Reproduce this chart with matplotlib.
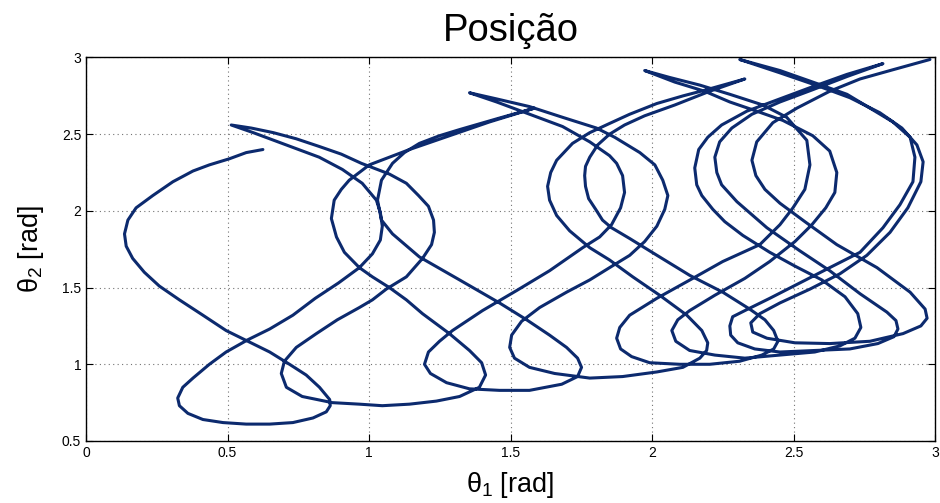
import numpy as np
import matplotlib
matplotlib.use("Agg")
import matplotlib.pyplot as plt

plt.rcParams['font.family'] = ['Liberation Sans', 'DejaVu Sans']
plt.rcParams['mathtext.fontset'] = 'custom'
plt.rcParams['mathtext.rm'] = 'Liberation Sans'
plt.rcParams['mathtext.it'] = 'Liberation Sans'

# trajectory (theta1, theta2), one list per swing
pass1 = [(0.625, 2.40), (0.566, 2.38), (0.507, 2.34), (0.436, 2.30), (0.378, 2.26), (0.307, 2.19),
         (0.236, 2.10), (0.177, 2.02), (0.148, 1.94), (0.136, 1.85), (0.142, 1.77), (0.165, 1.69),
         (0.206, 1.60), (0.259, 1.51), (0.330, 1.42), (0.413, 1.32), (0.495, 1.22), (0.572, 1.15),
         (0.649, 1.08), (0.719, 1.00), (0.778, 0.93), (0.825, 0.85), (0.861, 0.77), (0.863, 0.73),
         (0.849, 0.69), (0.802, 0.65), (0.731, 0.62), (0.649, 0.61), (0.566, 0.61), (0.484, 0.62),
         (0.413, 0.64), (0.360, 0.68), (0.330, 0.73), (0.324, 0.78), (0.342, 0.85), (0.378, 0.91),
         (0.436, 1.00), (0.495, 1.08), (0.572, 1.16), (0.649, 1.23), (0.731, 1.32), (0.810, 1.43),
         (0.892, 1.53), (0.966, 1.63), (1.012, 1.72), (1.040, 1.81), (1.047, 1.90), (1.040, 1.99),
         (1.026, 2.07), (0.976, 2.18), (0.906, 2.27), (0.824, 2.35), (0.708, 2.43), (0.591, 2.51),
         (0.513, 2.56)]

pass2 = [(0.584, 2.54), (0.662, 2.51), (0.743, 2.47), (0.824, 2.42), (0.902, 2.37), (0.973, 2.31),
         (1.072, 2.24), (1.132, 2.18), (1.175, 2.10), (1.210, 2.03), (1.228, 1.94), (1.231, 1.86),
         (1.221, 1.78), (1.189, 1.69), (1.132, 1.57), (1.061, 1.49), (1.012, 1.42), (0.966, 1.37),
         (0.888, 1.29), (0.814, 1.20), (0.743, 1.11), (0.701, 1.02), (0.690, 0.94), (0.708, 0.85),
         (0.764, 0.79), (0.870, 0.75), (0.966, 0.74), (1.047, 0.73), (1.143, 0.74), (1.238, 0.76),
         (1.320, 0.79), (1.390, 0.85), (1.412, 0.93), (1.398, 1.01), (1.355, 1.09), (1.284, 1.20),
         (1.189, 1.33), (1.132, 1.42), (1.072, 1.50), (1.012, 1.57), (0.966, 1.63), (0.913, 1.73),
         (0.885, 1.83), (0.867, 1.95), (0.877, 2.07), (0.902, 2.14), (0.930, 2.20), (1.001, 2.30),
         (1.072, 2.35), (1.143, 2.40), (1.284, 2.49), (1.426, 2.58), (1.585, 2.67)]

pass3 = [(1.451, 2.60), (1.320, 2.53), (1.249, 2.49), (1.178, 2.44), (1.125, 2.38), (1.083, 2.31),
         (1.044, 2.20), (1.030, 2.07), (1.044, 1.94), (1.083, 1.85), (1.178, 1.70), (1.320, 1.55),
         (1.461, 1.40), (1.557, 1.29), (1.638, 1.19), (1.698, 1.11), (1.737, 1.04), (1.751, 0.98),
         (1.737, 0.92), (1.681, 0.87), (1.567, 0.83), (1.461, 0.83), (1.355, 0.84), (1.274, 0.88),
         (1.217, 0.94), (1.196, 1.00), (1.210, 1.08), (1.249, 1.15), (1.295, 1.22), (1.401, 1.35),
         (1.521, 1.48), (1.638, 1.61), (1.755, 1.76), (1.815, 1.83), (1.857, 1.91), (1.889, 2.02),
         (1.903, 2.12), (1.896, 2.23), (1.875, 2.31), (1.850, 2.36), (1.780, 2.45), (1.684, 2.55),
         (1.567, 2.63), (1.451, 2.71), (1.355, 2.77)]

pass4 = [(1.451, 2.73), (1.567, 2.68), (1.684, 2.61), (1.804, 2.54), (1.868, 2.48), (1.957, 2.38),
         (2.010, 2.30), (2.038, 2.20), (2.056, 2.10), (2.045, 2.01), (2.017, 1.90), (1.974, 1.80),
         (1.921, 1.71), (1.850, 1.63), (1.780, 1.55), (1.698, 1.47), (1.603, 1.37), (1.539, 1.28),
         (1.504, 1.19), (1.497, 1.11), (1.514, 1.04), (1.567, 0.98), (1.656, 0.94), (1.780, 0.91),
         (1.896, 0.92), (2.017, 0.95), (2.109, 0.98), (2.169, 1.04), (2.193, 1.09), (2.197, 1.14),
         (2.176, 1.22), (2.123, 1.32), (2.027, 1.45), (1.932, 1.57), (1.850, 1.68), (1.780, 1.76),
         (1.709, 1.87), (1.663, 1.97), (1.638, 2.07), (1.631, 2.16), (1.642, 2.25), (1.663, 2.33),
         (1.719, 2.44), (1.780, 2.51), (1.850, 2.57), (1.921, 2.63), (2.017, 2.70), (2.110, 2.75),
         (2.193, 2.79), (2.328, 2.86)]

pass5 = [(2.204, 2.78), (2.080, 2.69), (1.974, 2.62), (1.903, 2.56), (1.850, 2.50), (1.808, 2.43),
         (1.780, 2.35), (1.765, 2.29), (1.762, 2.23), (1.765, 2.16), (1.776, 2.08), (1.801, 2.01),
         (1.825, 1.94), (1.857, 1.89), (1.921, 1.82), (2.009, 1.72), (2.133, 1.58), (2.250, 1.47),
         (2.345, 1.36), (2.399, 1.29), (2.430, 1.22), (2.445, 1.15), (2.430, 1.10), (2.388, 1.06),
         (2.310, 1.02), (2.204, 1.00), (2.098, 1.00), (1.992, 1.01), (1.928, 1.05), (1.889, 1.10),
         (1.875, 1.17), (1.886, 1.24), (1.921, 1.32), (2.017, 1.43), (2.144, 1.56), (2.250, 1.67),
         (2.381, 1.78), (2.452, 1.91), (2.498, 2.02), (2.540, 2.14), (2.558, 2.30), (2.547, 2.46),
         (2.476, 2.61), (2.392, 2.69), (2.275, 2.76), (2.169, 2.82), (2.062, 2.87), (1.974, 2.915)]

pass6 = [(2.080, 2.84), (2.186, 2.78), (2.275, 2.71), (2.370, 2.65), (2.462, 2.59), (2.568, 2.49),
         (2.628, 2.39), (2.653, 2.25), (2.646, 2.12), (2.614, 2.02), (2.565, 1.91), (2.505, 1.80),
         (2.416, 1.67), (2.328, 1.56), (2.222, 1.45), (2.133, 1.35), (2.091, 1.29), (2.070, 1.22),
         (2.084, 1.15), (2.133, 1.09), (2.222, 1.06), (2.328, 1.04), (2.452, 1.06), (2.575, 1.08),
         (2.664, 1.12), (2.717, 1.17), (2.738, 1.24), (2.727, 1.33), (2.682, 1.44), (2.600, 1.55),
         (2.505, 1.64), (2.416, 1.73), (2.321, 1.84), (2.257, 1.93), (2.215, 2.01), (2.176, 2.10),
         (2.158, 2.17), (2.151, 2.28), (2.165, 2.40), (2.197, 2.48), (2.246, 2.56), (2.335, 2.65),
         (2.452, 2.73), (2.568, 2.81), (2.689, 2.89), (2.816, 2.96)]

pass7 = [(2.689, 2.876), (2.568, 2.79), (2.452, 2.71), (2.353, 2.63), (2.282, 2.54), (2.239, 2.45),
         (2.222, 2.35), (2.229, 2.25), (2.246, 2.17), (2.300, 2.06), (2.406, 1.89), (2.522, 1.74),
         (2.628, 1.61), (2.735, 1.46), (2.830, 1.34), (2.862, 1.285), (2.869, 1.23), (2.855, 1.18),
         (2.798, 1.135), (2.699, 1.10), (2.575, 1.09), (2.452, 1.08), (2.363, 1.10), (2.303, 1.14),
         (2.278, 1.19), (2.275, 1.25), (2.285, 1.31), (2.328, 1.35), (2.416, 1.43), (2.522, 1.53),
         (2.628, 1.63), (2.735, 1.73), (2.816, 1.89), (2.876, 2.04), (2.922, 2.19), (2.929, 2.35),
         (2.912, 2.48), (2.851, 2.58), (2.770, 2.67), (2.689, 2.76), (2.583, 2.83), (2.452, 2.915),
         (2.310, 2.987)]

pass8 = [(2.452, 2.90), (2.583, 2.817), (2.699, 2.738), (2.805, 2.64), (2.883, 2.54), (2.936, 2.43),
         (2.958, 2.32), (2.950, 2.19), (2.904, 2.02), (2.841, 1.86), (2.759, 1.71), (2.664, 1.59),
         (2.558, 1.49), (2.452, 1.40), (2.381, 1.33), (2.349, 1.27), (2.356, 1.21), (2.406, 1.17),
         (2.505, 1.14), (2.628, 1.135), (2.770, 1.15), (2.887, 1.20), (2.950, 1.25), (2.972, 1.30),
         (2.965, 1.36), (2.912, 1.47), (2.795, 1.63), (2.653, 1.78), (2.540, 1.93), (2.452, 2.05),
         (2.399, 2.14), (2.367, 2.23), (2.353, 2.33), (2.370, 2.45), (2.427, 2.575), (2.512, 2.67),
         (2.628, 2.78), (2.735, 2.86), (2.851, 2.92), (2.982, 2.987)]

x_ticks = [0, 0.5, 1, 1.5, 2, 2.5, 3]
x_tick_labels = ["0", "0.5", "1", "1.5", "2", "2.5", "3"]
y_ticks = [0.5, 1, 1.5, 2, 2.5, 3]
y_tick_labels = ["0.5", "1", "1.5", "2", "2.5", "3"]

passes = [pass1, pass2, pass3, pass4, pass5, pass6, pass7, pass8]
pts = np.vstack([np.array(p) for p in passes])
theta1 = pts[:, 0]
theta2 = pts[:, 1]

fig = plt.figure(figsize=(9.4, 5.03), dpi=100)
ax = fig.add_axes([0.0915, 0.1233, 0.9032, 0.7624])

ax.plot(theta1, theta2, color='#0c2a6e', lw=2.2,
        solid_joinstyle='round', solid_capstyle='round')

ax.set_xlim(0, 3)
ax.set_ylim(0.5, 3)
ax.set_xticks(x_ticks)
ax.set_xticklabels(x_tick_labels)
ax.set_yticks(y_ticks)
ax.set_yticklabels(y_tick_labels)

ax.grid(True, linestyle=(0, (1, 3)), color='0.45', linewidth=0.8)
ax.tick_params(direction='in', top=True, right=True, labelsize=10, length=5, width=0.8)
for s in ax.spines.values():
    s.set_linewidth(1.0)

ax.set_title('Posição', fontsize=27.5, pad=12)
ax.set_xlabel(r'$\theta_1$ [rad]', fontsize=19.5, labelpad=7)
ax.set_ylabel(r'$\theta_2$ [rad]', fontsize=19.5, labelpad=11)

fig.savefig('out.png', dpi=100)
plt.close(fig)
print("saved out.png")
